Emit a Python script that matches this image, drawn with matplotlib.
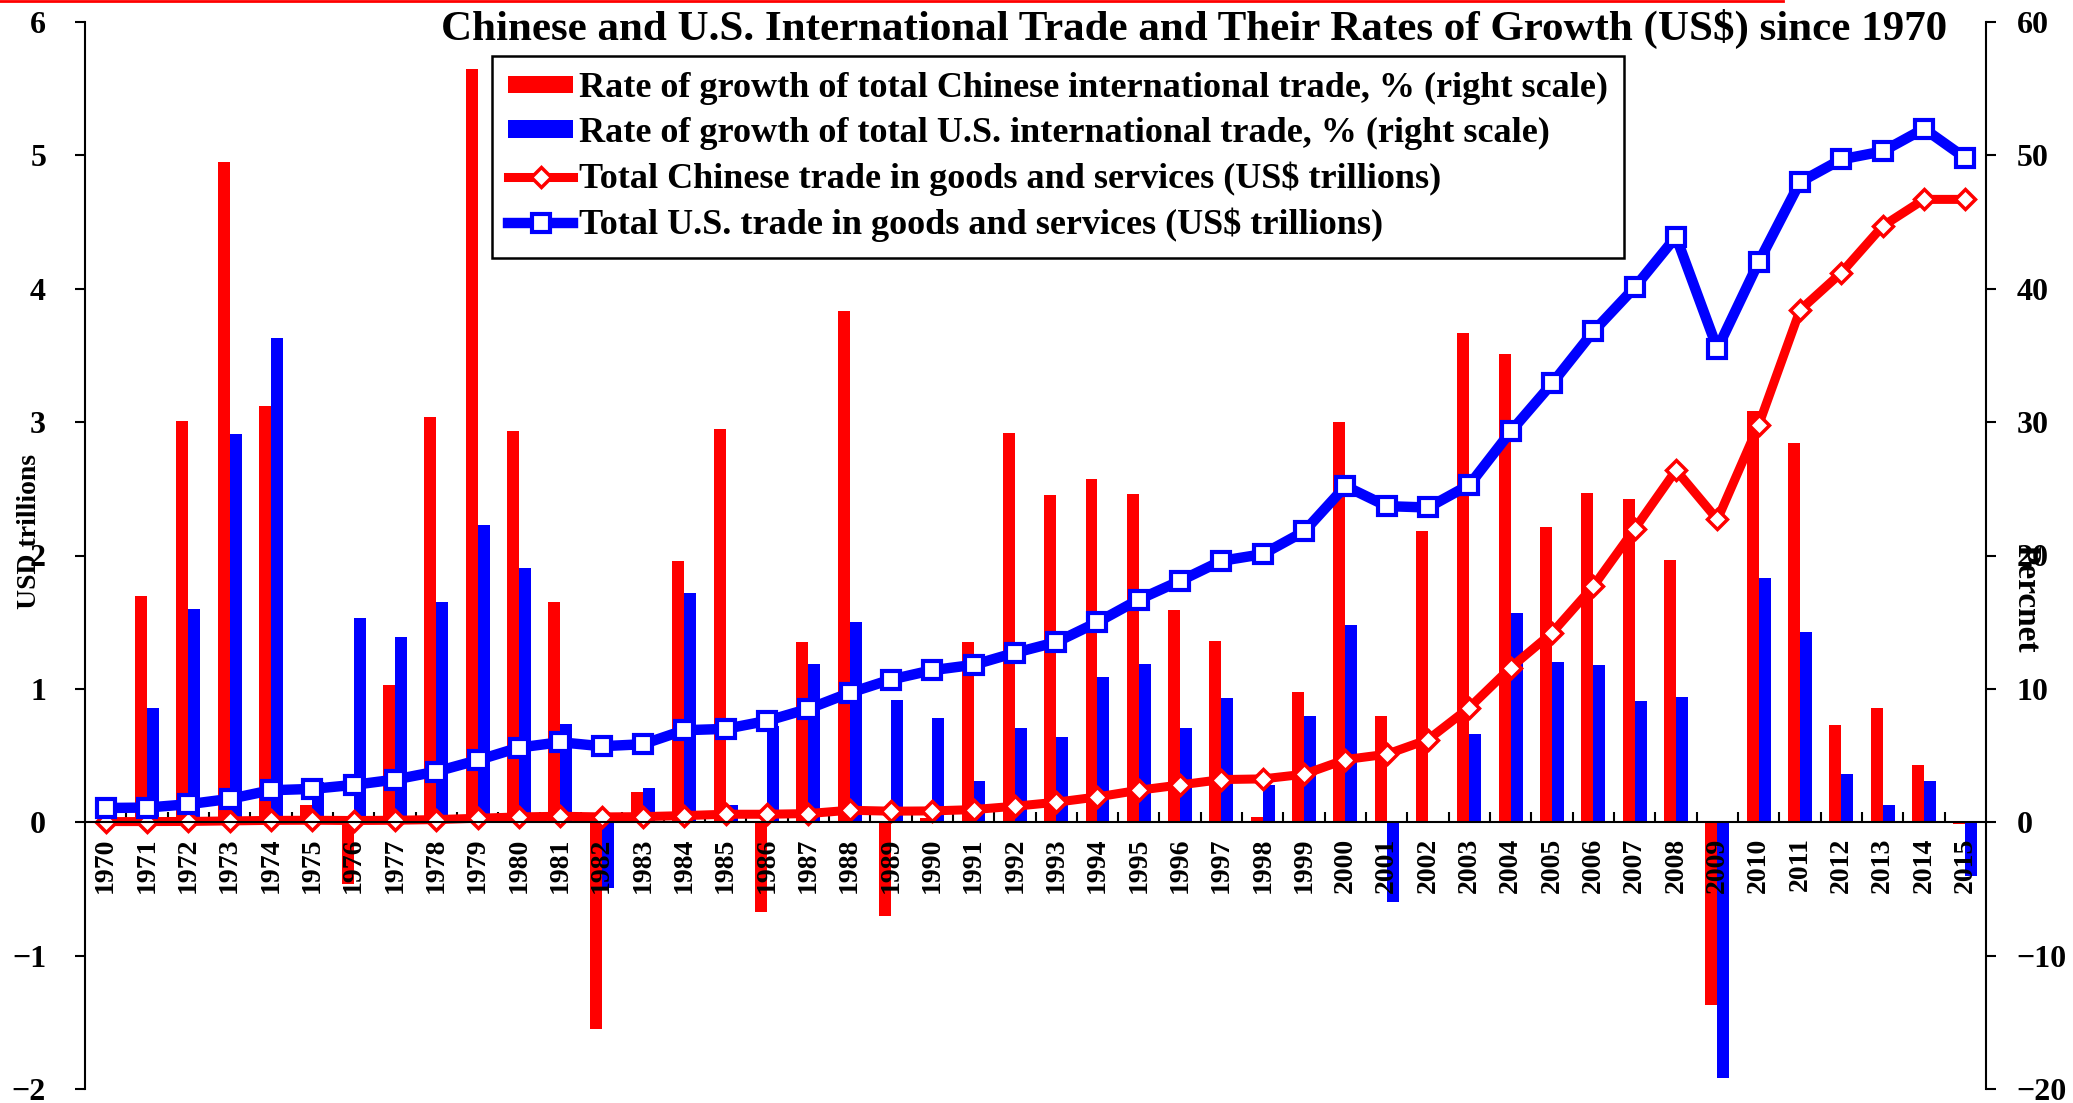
import numpy as np
import matplotlib
matplotlib.use("Agg")
import matplotlib.pyplot as plt
from matplotlib.lines import Line2D

plt.rcParams['font.family'] = ['Liberation Serif', 'DejaVu Serif']
plt.rcParams['font.weight'] = 'bold'

years = list(range(1970, 2016))

# growth rates, % (right scale)
china_growth = [0, 17.0, 30.1, 49.5, 31.2, 1.3, -4.6, 10.3, 30.4, 56.5,
                29.3, 16.5, -15.5, 2.3, 19.6, 29.5, -6.7, 13.5, 38.3, -7.0,
                0.3, 13.5, 29.2, 24.5, 25.7, 24.6, 15.9, 13.6, 0.4, 9.8,
                30.0, 8.0, 21.8, 36.7, 35.1, 22.1, 24.7, 24.2, 19.7, -13.7,
                30.8, 28.4, 7.3, 8.6, 4.3, -0.1]
us_growth = [0, 8.6, 16.0, 29.1, 36.3, 3.0, 15.3, 13.9, 16.5, 22.3,
             19.1, 7.4, -4.9, 2.6, 17.2, 1.3, 7.2, 11.9, 15.0, 9.2,
             7.8, 3.1, 7.1, 6.4, 10.9, 11.9, 7.1, 9.3, 2.8, 8.0,
             14.8, -6.0, 0.1, 6.6, 15.7, 12.0, 11.8, 9.1, 9.4, -19.2,
             18.3, 14.3, 3.6, 1.3, 3.1, -4.0]

# totals, US$ trillions (left scale)
china_total = [0.005, 0.005, 0.006, 0.01, 0.014, 0.015, 0.013, 0.015, 0.02, 0.03,
               0.04, 0.045, 0.04, 0.042, 0.05, 0.06, 0.06, 0.065, 0.09, 0.083,
               0.085, 0.095, 0.12, 0.15, 0.19, 0.24, 0.28, 0.32, 0.325, 0.36,
               0.47, 0.51, 0.62, 0.86, 1.16, 1.42, 1.77, 2.20, 2.64, 2.27,
               2.98, 3.84, 4.12, 4.47, 4.67, 4.67]
us_total = [0.107, 0.11, 0.135, 0.175, 0.24, 0.25, 0.28, 0.32, 0.38, 0.465,
            0.56, 0.60, 0.57, 0.585, 0.69, 0.70, 0.76, 0.85, 0.97, 1.07,
            1.14, 1.18, 1.27, 1.35, 1.50, 1.67, 1.81, 1.96, 2.01, 2.18,
            2.52, 2.37, 2.36, 2.53, 2.93, 3.29, 3.68, 4.01, 4.39, 3.55,
            4.20, 4.80, 4.97, 5.03, 5.20, 4.98]

labels = ["Rate of growth of total Chinese international trade, % (right scale)",
          "Rate of growth of total U.S. international trade, % (right scale)",
          "Total Chinese trade in goods and services (US$ trillions)",
          "Total U.S. trade in goods and services (US$ trillions)"]

W, H = 2073, 1103
x = np.arange(len(years))

fig = plt.figure(figsize=(W / 100, H / 100), dpi=100)
ax = fig.add_axes([85 / W, 1 - 1089 / H, (1986 - 85) / W, (1089 - 22) / H])
ax2 = ax.twinx()
ax.set_zorder(ax2.get_zorder() + 1)
ax.patch.set_visible(False)

b1 = ax2.bar(x - 0.145, china_growth, width=0.29, color='#ff0000')
b2 = ax2.bar(x + 0.145, us_growth, width=0.29, color='#0000ff')

l1, = ax.plot(x, china_total, color='#ff0000', lw=6.5, marker='D', ms=10,
              mfc='white', mec='#ff0000', mew=2.5)
l2, = ax.plot(x, us_total, color='#0000ff', lw=7.5, marker='s', ms=13,
              mfc='white', mec='#0000ff', mew=3)

ax.set_xlim(-0.5, len(years) - 0.5)
ax.set_ylim(-2, 6)
ax2.set_ylim(-20, 60)
ax.set_yticks(range(-2, 7))
ax2.set_yticks(range(-20, 61, 10))

ax.spines['bottom'].set_position(('data', 0))
ax.spines['top'].set_visible(False)
ax.spines['right'].set_visible(False)
for s in ['left', 'top', 'bottom']:
    ax2.spines[s].set_visible(False)
for s in ['left', 'bottom']:
    ax.spines[s].set_linewidth(1.5)
ax2.spines['right'].set_linewidth(1.5)

ax.set_xticks(x)
ax.set_xticklabels(years, rotation=90, fontsize=20)
ax.tick_params(axis='x', which='major', length=0, pad=11)
ax.set_xticks(x[:-1] + 0.5, minor=True)
ax.tick_params(axis='x', which='minor', direction='in', length=7, width=1.5)

ax.tick_params(axis='y', direction='out', length=7, width=1.5, labelsize=23, pad=21)
ax2.tick_params(axis='y', direction='out', length=7, width=1.5, labelsize=23, pad=15)

fig.text(1947 / W, 1 - 29 / H,
         "Chinese and U.S. International Trade and Their Rates of Growth (US$) since 1970",
         ha='right', va='center', fontsize=31, fontweight='bold')
fig.text(30 / W, 1 - 532 / H, "USD trillions", rotation=90, ha='center', va='center',
         fontsize=20, fontweight='bold')
fig.text(2026 / W, 1 - 598 / H, "Percnet", rotation=-90, ha='center', va='center',
         fontsize=24, fontweight='bold')

leg = ax.legend([b1, b2, l1, l2], labels, loc='upper left',
                bbox_to_anchor=(492 / W, 1 - 56 / H), bbox_transform=fig.transFigure,
                borderaxespad=0, fontsize=26, fancybox=False, edgecolor='black',
                framealpha=1, handlelength=1.8, handleheight=0.37, handletextpad=0.15,
                labelspacing=0.32, borderpad=0.45, numpoints=1)
leg.get_frame().set_linewidth(1.8)

fig.add_artist(Line2D([0, 0.86], [0.999, 0.999], color='#ff0000', lw=2,
                      transform=fig.transFigure))

fig.savefig("out.png", dpi=100)
